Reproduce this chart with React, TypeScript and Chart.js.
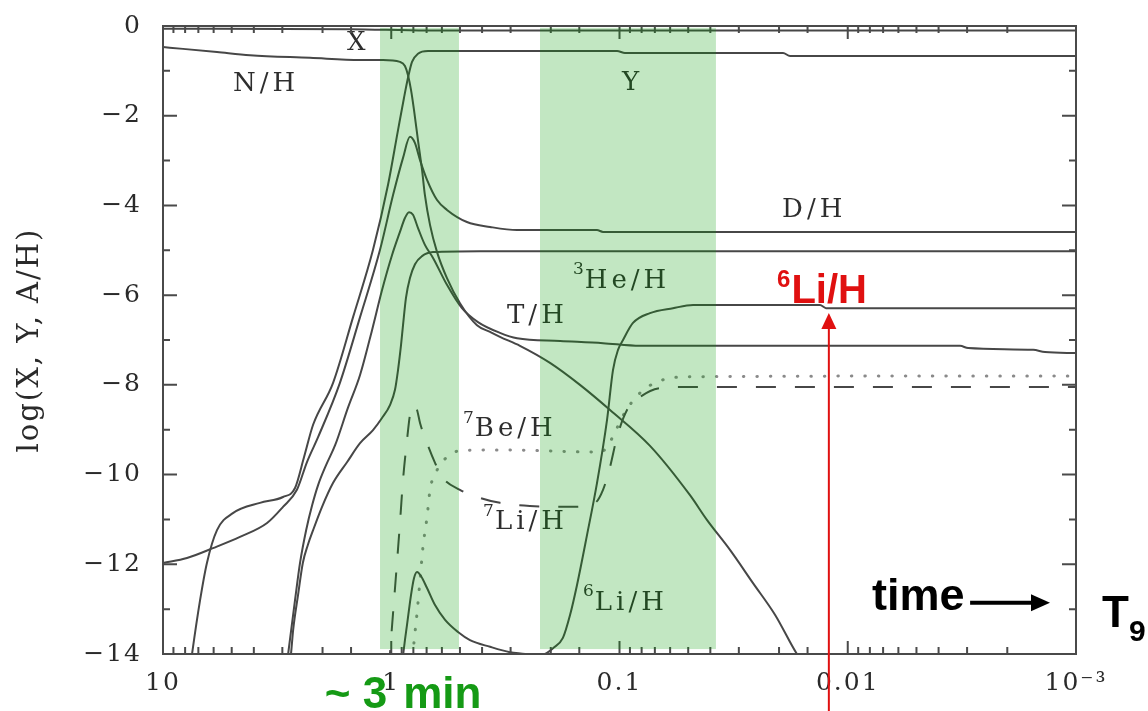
import React, { useEffect, useRef } from 'react';
import { Chart, registerables } from 'chart.js';

Chart.register(...registerables);

// ---------- data: temperature T9 (x, log axis, reversed) and log abundance (y) ----------
const xFracT9 = [10, 1.5, 0.7, 0.001];
const xFracLog = [-0.06, -0.07, -0.1, -0.1];

const nhT9 = [10, 8.17, 5.8, 4.16, 2.27, 1.37, 1.087, 0.916, 0.871, 0.845, 0.819, 0.795, 0.764, 0.733, 0.712, 0.676, 0.63, 0.57, 0.5, 0.421, 0.369, 0.334, 0.273, 0.2016, 0.149, 0.11, 0.0735, 0.0491, 0.0414, 0.0328, 0.026, 0.0208, 0.0167, 0.0146];
const nhLog = [-0.47, -0.51, -0.58, -0.65, -0.71, -0.76, -0.76, -0.8, -0.89, -1.09, -1.43, -1.87, -2.54, -3.21, -3.77, -4.44, -5.04, -5.62, -6.18, -6.67, -6.82, -6.93, -7.13, -7.51, -8.0, -8.56, -9.36, -10.46, -11.01, -11.68, -12.42, -13.13, -14.0, -14.4];

const heliumT9 = [7.62, 7.46, 6.88, 6.42, 5.8, 4.94, 3.76, 2.98, 2.64, 2.41, 2.2, 1.8, 1.47, 1.202, 1.033, 0.934, 0.88, 0.845, 0.811, 0.764, 0.69, 0.1025, 0.0946, 0.0192, 0.0179, 0.001];
const heliumLog = [-14.36, -14.0, -12.8, -11.97, -11.24, -10.86, -10.63, -10.5, -10.3, -9.61, -8.89, -7.96, -6.49, -4.99, -3.54, -2.32, -1.61, -1.16, -0.8, -0.62, -0.56, -0.56, -0.6, -0.6, -0.67, -0.67];

const dhT9 = [10, 7.85, 6.04, 4.6, 3.5, 2.98, 2.59, 2.34, 2.09, 1.68, 1.37, 1.12, 0.982, 0.888, 0.828, 0.787, 0.748, 0.697, 0.63, 0.57, 0.466, 0.369, 0.281, 0.1255, 0.1181, 0.001];
const dhLog = [-11.97, -11.86, -11.64, -11.39, -11.08, -10.72, -10.34, -9.72, -9.16, -7.96, -6.49, -4.99, -3.77, -2.94, -2.47, -2.61, -2.99, -3.43, -3.88, -4.1, -4.37, -4.48, -4.55, -4.55, -4.59, -4.59];

const thT9 = [2.89, 2.83, 2.64, 2.51, 2.36, 2.22, 2.09, 1.93, 1.76, 1.55, 1.37, 1.214, 1.098, 0.9925, 0.916, 0.871, 0.836, 0.803, 0.764, 0.712, 0.656, 0.57, 0.49, 0.417, 0.334, 0.281, 0.182, 0.1181, 0.0813, 0.00322, 0.00297, 0.00154, 0.001367, 0.001];
const thLog = [-14.36, -14.0, -12.8, -11.97, -11.24, -10.68, -10.23, -9.79, -9.34, -8.52, -7.78, -6.78, -5.89, -5.11, -4.59, -4.28, -4.15, -4.21, -4.5, -4.88, -5.17, -5.77, -6.29, -6.6, -6.84, -6.96, -7.02, -7.07, -7.13, -7.13, -7.18, -7.22, -7.27, -7.29];

const he3T9 = [2.81, 2.75, 2.69, 2.56, 2.44, 2.32, 2.2, 2.01, 1.8, 1.56, 1.37, 1.202, 1.098, 1.013, 0.963, 0.934, 0.906, 0.888, 0.862, 0.828, 0.787, 0.733, 0.656, 0.408, 0.001];
const he3Log = [-14.36, -14.0, -13.46, -12.68, -11.97, -11.57, -11.24, -10.72, -10.19, -9.72, -9.3, -9.01, -8.74, -8.45, -8.11, -7.67, -7.11, -6.67, -6.06, -5.62, -5.31, -5.13, -5.04, -5.02, -5.02];

const li6T9 = [0.888, 0.871, 0.853, 0.819, 0.795, 0.771, 0.741, 0.697, 0.643, 0.581, 0.51, 0.452, 0.369, 0.302, 0.259, 0.2346, 0.2121, 0.1955, 0.177, 0.1647, 0.1535, 0.1388, 0.1255, 0.1134, 0.1068, 0.1015, 0.0965, 0.0873, 0.0735, 0.0583, 0.0476, 0.01323, 0.01245, 0.001];
const li6Log = [-14.04, -13.69, -13.35, -12.68, -12.31, -12.17, -12.26, -12.53, -12.91, -13.24, -13.51, -13.69, -13.84, -13.96, -14.0, -14.04, -14.0, -13.87, -13.64, -13.13, -12.46, -11.35, -10.19, -8.78, -7.67, -7.22, -7.0, -6.62, -6.4, -6.29, -6.22, -6.22, -6.29, -6.29];

const li7T9 = [1.023, 1.013, 0.982, 0.944, 0.916, 0.888, 0.853, 0.828, 0.803, 0.771, 0.748, 0.697, 0.643, 0.599, 0.5, 0.408, 0.334, 0.247, 0.1647, 0.128, 0.1181, 0.11, 0.1025, 0.0927, 0.0813, 0.0665, 0.0543, 0.001];
const li7Log = [-14.36, -14.0, -13.09, -11.97, -11.08, -10.12, -9.23, -8.67, -8.45, -8.56, -8.85, -9.3, -9.74, -10.05, -10.34, -10.52, -10.63, -10.7, -10.72, -10.63, -10.34, -9.83, -9.16, -8.56, -8.27, -8.07, -8.05, -8.05];

const be7T9 = [0.811, 0.803, 0.771, 0.748, 0.726, 0.697, 0.676, 0.63, 0.57, 0.5, 0.334, 0.1217, 0.1134, 0.1046, 0.0946, 0.0813, 0.0665, 0.0491, 0.001];
const be7Log = [-14.36, -14.0, -13.09, -12.35, -11.61, -10.95, -10.34, -9.9, -9.61, -9.47, -9.45, -9.5, -9.39, -9.05, -8.61, -8.18, -7.91, -7.82, -7.8];

// axis tick labels
const xTickExps = [1, 0, -1, -2, -3];
const xTickLabels = ['10', '1', '0.1', '0.01', '10\u207B\u00B3'];

// curve labels (left edge in T9, vertical centre in log units)
const labelMain = ['X', 'N/H', 'Y', 'D/H', 'He/H', 'T/H', 'Be/H', 'Li/H', 'Li/H'];
const labelSup = ['', '', '', '', '3', '', '7', '7', '6'];
const labelT9 = [1.563, 4.94, 0.0975, 0.0194, 0.16, 0.311, 0.485, 0.396, 0.1445];
const labelLog = [-0.38, -1.29, -1.27, -4.1, -5.68, -6.46, -9.0, -11.06, -12.86];

// shaded epochs
const bandFromT9 = [1.12, 0.223];
const bandToT9 = [0.505, 0.0378];
const bandTopLog = -0.04;
const bandBottomLog = -13.89;

// annotations
const arrowT9 = 0.0121;
const arrowTipLog = -6.4;
const redLabelT9 = 0.0204;
const redLabelLog = -6.18;
const timeT9 = 0.00783;
const timeLog = -13.02;
const timeArrowFromT9 = 0.00291;
const timeArrowToT9 = 0.0013;
const timeArrowLog = -12.86;
const t9LabelLog = -13.4;

const SERIF = '"DejaVu Serif", serif';
const SANS = '"Liberation Sans", Arial, sans-serif';
const LINE = '#474747';
const FRAME = '#4a4a4a';
const BAND = 'rgba(0,155,0,0.24)';
const RED = '#e01010';
const GREEN = '#159a15';

const pts = (xs: number[], ys: number[]) => xs.map((x, i) => ({ x, y: ys[i] }));

const decor = {
  id: 'decor',
  beforeDraw(chart: any) {
    const ctx = chart.ctx;
    ctx.save();
    ctx.fillStyle = '#ffffff';
    ctx.fillRect(0, 0, chart.width, chart.height);
    ctx.restore();
    ctx.letterSpacing = '2px';
  },
  afterDatasetsDraw(chart: any) {
    const ctx = chart.ctx;
    const xs = chart.scales.x;
    const ys = chart.scales.y;
    const { left, right, top, bottom } = chart.chartArea;
    const px = (t: number) => xs.getPixelForValue(t);
    const py = (v: number) => ys.getPixelForValue(v);
    ctx.save();

    // curve labels
    ctx.fillStyle = '#2e2e2e';
    ctx.textAlign = 'left';
    ctx.textBaseline = 'middle';
    for (let i = 0; i < labelMain.length; i++) {
      let x = px(labelT9[i]);
      const y = py(labelLog[i]);
      if (labelSup[i]) {
        ctx.letterSpacing = '0px';
        ctx.font = `17px ${SERIF}`;
        ctx.fillText(labelSup[i], x, y - 11);
        x += ctx.measureText(labelSup[i]).width + 1;
      }
      ctx.letterSpacing = '4px';
      ctx.font = `26px ${SERIF}`;
      ctx.fillText(labelMain[i], x, y);
    }
    ctx.letterSpacing = '0px';

    // frame and tick marks
    ctx.strokeStyle = FRAME;
    ctx.lineWidth = 2;
    ctx.strokeRect(left, top, right - left, bottom - top);
    ctx.beginPath();
    for (const t of xs.ticks) {
      const x = px(t.value);
      const e = Math.log10(t.value);
      const len = Math.abs(e - Math.round(e)) < 1e-6 ? 13 : 7;
      ctx.moveTo(x, bottom);
      ctx.lineTo(x, bottom - len);
      ctx.moveTo(x, top);
      ctx.lineTo(x, top + len);
    }
    for (const t of ys.ticks) {
      const y = py(t.value);
      const len = Math.round(t.value) % 2 === 0 ? 14 : 7;
      ctx.moveTo(left, y);
      ctx.lineTo(left + len, y);
      ctx.moveTo(right, y);
      ctx.lineTo(right - len, y);
    }
    ctx.stroke();

    // shaded bands
    ctx.fillStyle = BAND;
    for (let i = 0; i < bandFromT9.length; i++) {
      const x1 = px(bandFromT9[i]);
      const x2 = px(bandToT9[i]);
      const y1 = py(bandTopLog);
      const y2 = py(bandBottomLog);
      ctx.fillRect(x1, y1, x2 - x1, y2 - y1);
    }

    // red arrow and label
    const ax = px(arrowT9);
    const tip = py(arrowTipLog);
    ctx.strokeStyle = RED;
    ctx.lineWidth = 2;
    ctx.beginPath();
    ctx.moveTo(ax, chart.height);
    ctx.lineTo(ax, tip + 12);
    ctx.stroke();
    ctx.fillStyle = RED;
    ctx.beginPath();
    ctx.moveTo(ax, tip);
    ctx.lineTo(ax - 7.5, tip + 16);
    ctx.lineTo(ax + 7.5, tip + 16);
    ctx.closePath();
    ctx.fill();
    ctx.textBaseline = 'alphabetic';
    let rx = px(redLabelT9);
    const ry = py(redLabelLog);
    ctx.font = `bold 24px ${SANS}`;
    ctx.fillText('6', rx, ry - 16);
    rx += ctx.measureText('6').width + 1;
    ctx.font = `bold 40px ${SANS}`;
    ctx.fillText('Li/H', rx, ry);

    // time arrow
    ctx.fillStyle = '#000';
    ctx.font = `bold 45px ${SANS}`;
    ctx.fillText('time', px(timeT9), py(timeLog));
    const ty = py(timeArrowLog);
    const tx1 = px(timeArrowFromT9);
    const tx2 = px(timeArrowToT9);
    ctx.strokeStyle = '#000';
    ctx.lineWidth = 4;
    ctx.beginPath();
    ctx.moveTo(tx1, ty);
    ctx.lineTo(tx2 - 14, ty);
    ctx.stroke();
    ctx.beginPath();
    ctx.moveTo(tx2, ty);
    ctx.lineTo(tx2 - 19, ty - 8.5);
    ctx.lineTo(tx2 - 19, ty + 8.5);
    ctx.closePath();
    ctx.fill();

    // T9 axis name
    const tBase = py(t9LabelLog);
    ctx.font = `bold 44px ${SANS}`;
    ctx.fillText('T', right + 26, tBase);
    const tw = ctx.measureText('T').width;
    ctx.font = `bold 30px ${SANS}`;
    ctx.fillText('9', right + 26 + tw, tBase + 14);

    // ~3 min
    const oneX = px(1);
    ctx.fillStyle = GREEN;
    ctx.font = `bold 44px ${SANS}`;
    ctx.textAlign = 'right';
    ctx.fillText('~ 3', oneX - 4, chart.height - 3);
    ctx.textAlign = 'left';
    ctx.fillText('min', oneX + 12, chart.height - 3);

    ctx.restore();
    ctx.letterSpacing = '2px';
  },
};

export default function App() {
  const ref = useRef<HTMLCanvasElement>(null);
  useEffect(() => {
    const canvas = ref.current as HTMLCanvasElement;
    const solid = (label: string, t: number[], v: number[]) => ({
      label,
      data: pts(t, v),
      borderColor: LINE,
      borderWidth: 2,
      pointRadius: 0,
      fill: false,
      cubicInterpolationMode: 'monotone',
    });
    const chart = new Chart(canvas, {
      type: 'line',
      data: {
        datasets: [
          solid('X', xFracT9, xFracLog),
          solid('N/H', nhT9, nhLog),
          solid('Y', heliumT9, heliumLog),
          solid('D/H', dhT9, dhLog),
          solid('T/H', thT9, thLog),
          solid('3He/H', he3T9, he3Log),
          solid('6Li/H', li6T9, li6Log),
          { ...solid('7Li/H', li7T9, li7Log), borderDash: [20, 19] },
          { ...solid('7Be/H', be7T9, be7Log), borderDash: [0.5, 13], borderCapStyle: 'round', borderColor: '#8a8a8a', borderWidth: 3 },
        ] as any,
      },
      options: {
        responsive: false,
        animation: false,
        devicePixelRatio: 1,
        events: [],
        layout: { autoPadding: false, padding: { left: 0, right: 72, top: 26, bottom: 0 } },
        plugins: { legend: { display: false }, tooltip: { enabled: false } },
        scales: {
          x: {
            type: 'logarithmic',
            reverse: true,
            min: 0.001,
            max: 10,
            afterFit: (s: any) => { s.height = 57; s.paddingLeft = 0; s.paddingRight = 0; },
            grid: { display: false, drawTicks: false },
            border: { display: false },
            ticks: {
              autoSkip: false,
              maxRotation: 0,
              padding: 14,
              color: '#2a2a2a',
              font: { family: SERIF, size: 25 },
              callback: (value: any) => {
                const e = Math.log10(Number(value));
                const r = Math.round(e);
                if (Math.abs(e - r) > 1e-6) return '';
                const k = xTickExps.indexOf(r);
                return k >= 0 ? xTickLabels[k] : '';
              },
            },
          },
          y: {
            type: 'linear',
            min: -14,
            max: 0,
            afterFit: (s: any) => { s.width = 163; s.paddingTop = 0; s.paddingBottom = 0; },
            grid: { display: false, drawTicks: false },
            border: { display: false },
            title: {
              display: true,
              text: 'log(X, Y, A/H)',
              color: '#2a2a2a',
              font: { family: SERIF, size: 29 },
              padding: { top: 13, bottom: 0 },
            },
            ticks: {
              stepSize: 1,
              autoSkip: false,
              padding: 21,
              color: '#2a2a2a',
              font: { family: SERIF, size: 25 },
              callback: (value: any) => {
                const v = Math.round(Number(value));
                if (v % 2 !== 0) return '';
                return v === 0 ? '0' : '\u2212' + Math.abs(v);
              },
            },
          },
        },
      } as any,
      plugins: [decor as any],
    });
    return () => chart.destroy();
  }, []);
  return (
    <div style={{ position: 'absolute', left: 0, top: 0, width: 1148, height: 711, background: '#fff' }}>
      <canvas ref={ref} width={1148} height={711} style={{ display: 'block' }} />
    </div>
  );
}
